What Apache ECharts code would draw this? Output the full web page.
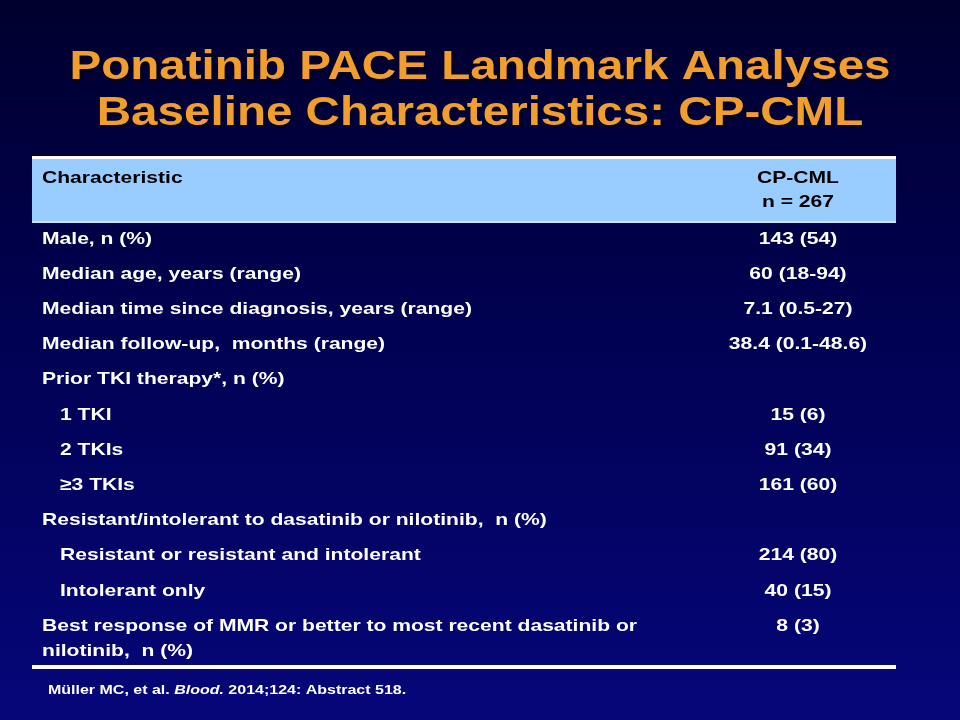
<!DOCTYPE html>
<html><head><meta charset="utf-8">
<script src="https://cdn.jsdelivr.net/npm/echarts@6/dist/echarts.min.js"></script>
<style>html,body{margin:0;padding:0;background:#000033}#c{width:960px;height:720px}</style>
</head><body><div id="c"></div>
<script>
var titleLines = ['Ponatinib PACE Landmark Analyses', 'Baseline Characteristics: CP-CML'];
var headerLeft = 'Characteristic';
var headerRight = ['CP-CML', 'n = 267'];
var characteristics = [
  'Male, n (%)',
  'Median age, years (range)',
  'Median time since diagnosis, years (range)',
  'Median follow-up,  months (range)',
  'Prior TKI therapy*, n (%)',
  '1 TKI',
  '2 TKIs',
  '\u22653 TKIs',
  'Resistant/intolerant to dasatinib or nilotinib,  n (%)',
  'Resistant or resistant and intolerant',
  'Intolerant only',
  'Best response of MMR or better to most recent dasatinib or\nnilotinib,  n (%)'
];
var values = ['143 (54)', '60 (18-94)', '7.1 (0.5-27)', '38.4 (0.1-48.6)', '', '15 (6)', '91 (34)', '161 (60)', '', '214 (80)', '40 (15)', '8 (3)'];
var indented = [0, 0, 0, 0, 0, 1, 1, 1, 0, 1, 1, 0];

var FONT = '"Liberation Sans", Arial, sans-serif';
var SX = 1.24;
var chart = echarts.init(document.getElementById('c'));
var data = characteristics.map(function (c, i) { return [i, c, values[i], indented[i]]; });

var titleGraphics = titleLines.map(function (t, i) {
  return { type: 'text', x: 480, y: 68 + i * 46, scaleX: 1.16, style: { text: t, fill: '#f19e2c', font: 'bold 41px ' + FONT, align: 'center', verticalAlign: 'middle', textShadowColor: 'rgba(0,0,0,0.7)', textShadowOffsetX: 2, textShadowOffsetY: 2, textShadowBlur: 2 } };
});

chart.setOption({
  backgroundColor: {
    type: 'linear', x: 0, y: 0, x2: 0, y2: 1,
    colorStops: [{ offset: 0, color: '#00002e' }, { offset: 0.35, color: '#00004a' }, { offset: 1, color: '#06067a' }]
  },
  animation: false,
  grid: { left: 0, right: 0, top: 221.4, bottom: 720 - 643.6 },
  xAxis: { type: 'value', min: 0, max: 960, show: false },
  yAxis: { type: 'value', min: -0.5, max: 11.5, inverse: true, show: false },
  graphic: titleGraphics.concat([
    { type: 'rect', shape: { x: 32, y: 157, width: 864, height: 65 }, style: { fill: '#99ccff' } },
    { type: 'rect', shape: { x: 32, y: 156, width: 864, height: 3 }, style: { fill: '#ffffff' } },
    { type: 'rect', shape: { x: 32, y: 221, width: 864, height: 2 }, style: { fill: '#c8e4ff' } },
    { type: 'text', x: 42, y: 178, scaleX: SX, style: { text: headerLeft, fill: '#000000', font: 'bold 17px ' + FONT, verticalAlign: 'middle' } },
    { type: 'text', x: 798, y: 178, scaleX: SX, style: { text: headerRight[0], fill: '#000000', font: 'bold 17px ' + FONT, align: 'center', verticalAlign: 'middle' } },
    { type: 'text', x: 798, y: 202, scaleX: SX, style: { text: headerRight[1], fill: '#000000', font: 'bold 17px ' + FONT, align: 'center', verticalAlign: 'middle' } },
    { type: 'rect', shape: { x: 32, y: 665, width: 864, height: 4 }, style: { fill: '#ffffff' } },
    { type: 'text', x: 48, y: 690, scaleX: 1.23, style: {
      text: '{n|M\u00fcller MC, et al. }{i|Blood.}{n| 2014;124: Abstract 518.}', verticalAlign: 'middle',
      rich: { n: { fill: '#ffffff', font: 'bold 13px ' + FONT }, i: { fill: '#ffffff', font: 'italic bold 13px ' + FONT } } } }
  ]),
  series: [{
    type: 'custom',
    data: data,
    renderItem: function (params, api) {
      var i = api.value(0);
      var p = api.coord([0, i]);
      var row = data[params.dataIndex];
      var multi = row[1].indexOf('\n') >= 0;
      var y = multi ? p[1] - 12.5 : p[1];
      var va = multi ? 'top' : 'middle';
      return {
        type: 'group',
        children: [
          { type: 'text', x: row[3] ? 60 : 42, y: y, scaleX: SX, style: { text: row[1], fill: '#ffffff', font: 'bold 17px ' + FONT, lineHeight: 25, verticalAlign: va } },
          { type: 'text', x: 798, y: y, scaleX: SX, style: { text: row[2], fill: '#ffffff', font: 'bold 17px ' + FONT, lineHeight: 25, align: 'center', verticalAlign: va } }
        ]
      };
    }
  }]
});
</script></body></html>
